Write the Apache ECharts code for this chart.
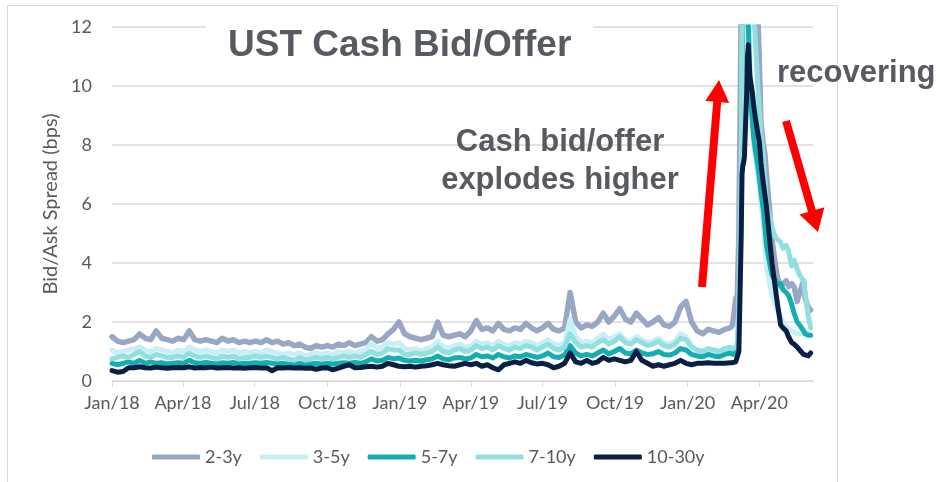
<!DOCTYPE html>
<html lang="en">
<head>
<meta charset="UTF-8">
<title>UST Cash Bid/Offer</title>
<script src="https://cdn.jsdelivr.net/npm/echarts@6/dist/echarts.min.js"></script>
<style>
  html, body { margin: 0; padding: 0; background: #fff; }
  #chart { width: 936px; height: 482px; }
</style>
</head>
<body>
<div id="chart"></div>
<script>
// weekly readings (Mondays) from Jan 2018 to Feb 24 2020, then denser through the March 2020 blow-out
var weekCount = 113;
var spikeDates = [
  '2020-02-27', '2020-03-02', '2020-03-04', '2020-03-06',
  '2020-03-09', '2020-03-10', '2020-03-11', '2020-03-12', '2020-03-13',
  '2020-03-16', '2020-03-17', '2020-03-18', '2020-03-19', '2020-03-20',
  '2020-03-23', '2020-03-25', '2020-03-27', '2020-03-30',
  '2020-04-01', '2020-04-03', '2020-04-06', '2020-04-08', '2020-04-10',
  '2020-04-14', '2020-04-17', '2020-04-21', '2020-04-24', '2020-04-28',
  '2020-05-01', '2020-05-05', '2020-05-08', '2020-05-12', '2020-05-15',
  '2020-05-19', '2020-05-22', '2020-05-27', '2020-05-29', '2020-06-02', '2020-06-05'
];

var tickDates = ['2018-01-01', '2018-04-01', '2018-07-01', '2018-10-01', '2019-01-01', '2019-04-01',
                 '2019-07-01', '2019-10-01', '2020-01-01', '2020-04-01'];
var tickLabels = ['Jan/18', 'Apr/18', 'Jul/18', 'Oct/18', 'Jan/19', 'Apr/19',
                  'Jul/19', 'Oct/19', 'Jan/20', 'Apr/20'];

var seriesNames = ['2-3y', '3-5y', '5-7y', '7-10y', '10-30y'];

var y2to3 = [
  1.5, 1.35, 1.3, 1.35, 1.4, 1.6, 1.45, 1.4, 1.7, 1.45, 1.4, 1.35, 1.45,
  1.4, 1.7, 1.4, 1.35, 1.4, 1.35, 1.3, 1.45, 1.35, 1.4, 1.3, 1.35, 1.3,
  1.35, 1.3, 1.4, 1.3, 1.35, 1.25, 1.3, 1.2, 1.25, 1.15, 1.1, 1.2, 1.15,
  1.2, 1.15, 1.25, 1.2, 1.3, 1.2, 1.25, 1.3, 1.5, 1.35, 1.4, 1.6, 1.75,
  2.0, 1.6, 1.5, 1.45, 1.4, 1.45, 1.5, 2.0, 1.55, 1.5, 1.55, 1.6, 1.5,
  1.7, 2.05, 1.75, 1.8, 1.7, 1.95, 1.75, 1.7, 1.8, 1.75, 1.95, 1.8, 1.7,
  1.8, 1.95, 1.75, 1.7, 1.8, 3.0, 2.0, 1.8, 1.9, 1.85, 2.0, 2.3, 2.0,
  2.2, 2.45, 2.1, 2.0, 2.3, 2.1, 1.9, 2.0, 2.15, 1.9, 1.85, 2.0, 2.5,
  2.7, 2.0, 1.7, 1.6, 1.75, 1.7, 1.65, 1.75, 1.8,
  1.9, 2.8, 2.9, 5.0,
  13, 15, 16, 16, 16,
  16, 16, 16, 15.5, 15,
  15, 14.5, 13.5, 12.5,
  10.8, 8.8, 8.0, 7.7, 7.0,
  5.8, 4.8, 4.0, 3.5, 3.2,
  3.3, 3.4, 3.2, 3.3, 3.2,
  2.7, 3.0, 3.4, 2.8, 2.5, 2.4
];

var y3to5 = [
  1.05, 0.95, 1.0, 1.05, 1.1, 1.15, 1.05, 1.0, 1.1, 1.05, 1.0, 0.95, 1.05,
  1.0, 1.15, 1.05, 1.0, 1.05, 1.0, 0.95, 1.05, 1.0, 1.05, 0.95, 1.0, 0.95,
  1.0, 0.95, 1.05, 1.0, 0.95, 0.9, 0.95, 0.9, 0.95, 0.85, 0.9, 0.95, 0.9,
  0.95, 0.9, 1.0, 0.95, 1.0, 0.95, 1.0, 1.05, 1.3, 1.1, 1.15, 1.3, 1.25,
  1.3, 1.1, 1.05, 1.1, 1.0, 1.1, 1.15, 1.35, 1.15, 1.1, 1.2, 1.25, 1.15,
  1.2, 1.35, 1.25, 1.3, 1.2, 1.35, 1.25, 1.2, 1.3, 1.25, 1.35, 1.3, 1.2,
  1.3, 1.4, 1.25, 1.2, 1.3, 2.1, 1.5, 1.3, 1.35, 1.3, 1.45, 1.6, 1.4,
  1.5, 1.6, 1.4, 1.35, 1.5, 1.4, 1.3, 1.35, 1.45, 1.3, 1.25, 1.35, 1.6,
  1.5, 1.2, 1.0, 0.95, 1.0, 0.95, 0.9, 1.0, 1.05,
  1.0, 1.05, 1.2, 2.5,
  7, 11, 13, 14, 14,
  14, 13.5, 13, 12.5, 11,
  9, 8, 7.5, 7,
  6.6, 6.0, 5.4, 4.6, 3.9,
  3.3, 2.9, 2.6, 2.4, 2.2,
  2.0, 1.85, 1.75, 1.7, 1.65,
  1.6, 1.6, 1.7, 1.7, 1.6, 1.55
];

var y5to7 = [
  0.6, 0.55, 0.6, 0.65, 0.6, 0.7, 0.6, 0.65, 0.6, 0.62, 0.58, 0.6, 0.62,
  0.6, 0.7, 0.62, 0.6, 0.63, 0.6, 0.58, 0.62, 0.6, 0.63, 0.58, 0.6, 0.6,
  0.62, 0.6, 0.63, 0.6, 0.58, 0.6, 0.57, 0.55, 0.6, 0.55, 0.58, 0.6, 0.57,
  0.6, 0.58, 0.6, 0.62, 0.6, 0.63, 0.6, 0.65, 0.75, 0.68, 0.7, 0.8, 0.75,
  0.78, 0.7, 0.68, 0.7, 0.68, 0.72, 0.75, 0.85, 0.75, 0.72, 0.78, 0.8, 0.75,
  0.78, 0.9, 0.82, 0.85, 0.78, 0.9, 0.82, 0.78, 0.85, 0.82, 0.9, 0.85, 0.8,
  0.85, 0.95, 0.82, 0.8, 0.88, 1.2, 0.95, 0.85, 0.9, 0.85, 0.95, 1.05, 0.92,
  1.0, 1.1, 0.95, 0.92, 1.05, 0.95, 0.9, 0.92, 1.0, 0.9, 0.88, 0.95, 1.1,
  1.05, 0.9, 0.85, 0.82, 0.9, 0.85, 0.82, 0.9, 0.95,
  0.9, 0.95, 1.1, 2.0,
  6.5, 10, 12.5, 13, 13,
  13, 12.5, 12, 11, 10,
  8.8, 8.2, 7.8, 7.3,
  6.9, 6.4, 5.8, 5.2, 4.6,
  4.0, 3.6, 3.4, 3.3, 3.3,
  3.1, 3.0, 2.9, 2.6, 2.3,
  2.0, 1.9, 1.7, 1.6, 1.55, 1.55
];

var y7to10 = [
  0.75, 0.8, 0.85, 0.8, 0.9, 1.0, 0.85, 0.8, 0.9, 0.85, 0.8, 0.8, 0.85,
  0.8, 0.95, 0.85, 0.8, 0.85, 0.8, 0.75, 0.85, 0.8, 0.85, 0.75, 0.8, 0.8,
  0.85, 0.8, 0.85, 0.8, 0.75, 0.8, 0.75, 0.7, 0.8, 0.7, 0.75, 0.8, 0.75,
  0.8, 0.75, 0.8, 0.85, 0.8, 0.85, 0.8, 0.9, 1.0, 0.9, 0.95, 1.1, 1.05,
  1.05, 0.9, 0.9, 0.95, 0.9, 0.95, 1.0, 1.15, 1.0, 0.95, 1.05, 1.1, 1.0,
  1.05, 1.2, 1.1, 1.15, 1.05, 1.2, 1.1, 1.05, 1.15, 1.1, 1.2, 1.15, 1.05,
  1.15, 1.25, 1.1, 1.05, 1.15, 1.6, 1.3, 1.15, 1.2, 1.15, 1.3, 1.4, 1.25,
  1.35, 1.5, 1.3, 1.25, 1.4, 1.3, 1.2, 1.25, 1.35, 1.2, 1.15, 1.25, 1.45,
  1.4, 1.15, 1.05, 1.0, 1.1, 1.05, 1.0, 1.1, 1.15,
  1.1, 1.15, 1.3, 2.5,
  7.5, 11.5, 13.5, 14, 14,
  14.5, 14, 13.5, 13.5, 13,
  13, 12.5, 11.5, 10,
  9.2, 8.4, 7.6, 6.8, 6.0,
  5.6, 5.2, 4.9, 4.8, 4.7,
  4.5, 4.6, 4.4, 3.9, 4.1,
  3.8, 3.6, 3.4, 3.0, 2.2, 1.8
];

var y10to30 = [
  0.35, 0.3, 0.32, 0.45, 0.45, 0.48, 0.45, 0.44, 0.47, 0.45, 0.43, 0.45, 0.46,
  0.45, 0.48, 0.44, 0.46, 0.45, 0.47, 0.44, 0.45, 0.46, 0.44, 0.45, 0.43, 0.45,
  0.46, 0.44, 0.45, 0.35, 0.45, 0.44, 0.46, 0.44, 0.45, 0.43, 0.44, 0.4, 0.44,
  0.45, 0.38, 0.44, 0.5, 0.55, 0.45, 0.46, 0.48, 0.5, 0.47, 0.5, 0.6, 0.55,
  0.5, 0.48, 0.5, 0.47, 0.5, 0.52, 0.55, 0.6, 0.55, 0.52, 0.5, 0.55, 0.6,
  0.55, 0.6, 0.5, 0.55, 0.45, 0.38, 0.55, 0.6, 0.65, 0.6, 0.7, 0.62, 0.58,
  0.6, 0.55, 0.45, 0.5, 0.6, 0.95, 0.65, 0.6, 0.7, 0.6, 0.65, 0.8, 0.7,
  0.75, 0.7, 0.65, 0.7, 1.0, 0.7, 0.6, 0.5, 0.55, 0.5, 0.55, 0.6, 0.7,
  0.6, 0.55, 0.6, 0.6, 0.62, 0.6, 0.6, 0.6, 0.62,
  0.62, 0.65, 0.7, 1.0,
  5.0, 7.0, 7.3, 7.4, 7.6,
  9.8, 11.0, 11.4, 10.8, 10.3,
  9.8, 9.3, 8.9, 8.4,
  8.1, 7.4, 6.7, 6.3, 5.9,
  4.8, 4.0, 3.2, 2.6, 1.9,
  1.8, 1.7, 1.5, 1.3, 1.25,
  1.15, 1.05, 0.9, 0.95, 0.85, 0.95
];

var seriesColors = ['#99a7c5', '#c8eff6', '#14aeb1', '#93dfe0', '#0b1e43'];
var seriesValues = [y2to3, y3to5, y5to7, y7to10, y10to30];

function day(s) {
  var p = s.split('-');
  return new Date(+p[0], +p[1] - 1, +p[2]).getTime();
}

var times = [];
for (var i = 0; i < weekCount; i++) {
  times.push(new Date(2018, 0, 1 + 7 * i).getTime());
}
spikeDates.forEach(function (d) { times.push(day(d)); });

var tickTimes = tickDates.map(day);

function tickLabel(v) {
  var best = 0;
  for (var k = 1; k < tickTimes.length; k++) {
    if (Math.abs(tickTimes[k] - v) < Math.abs(tickTimes[best] - v)) best = k;
  }
  return tickLabels[best];
}

function arrowPoints(from, to, shaft, headLen, headW) {
  var dx = to[0] - from[0], dy = to[1] - from[1];
  var len = Math.sqrt(dx * dx + dy * dy);
  var ux = dx / len, uy = dy / len, px = -uy, py = ux;
  var bx = to[0] - ux * headLen, by = to[1] - uy * headLen;
  var s = shaft / 2, h = headW / 2;
  return [
    [from[0] + px * s, from[1] + py * s],
    [bx + px * s, by + py * s],
    [bx + px * h, by + py * h],
    to,
    [bx - px * h, by - py * h],
    [bx - px * s, by - py * s],
    [from[0] - px * s, from[1] - py * s]
  ];
}

var axisText = { color: '#595959', fontSize: 18, fontFamily: 'Lato' };
var noteFont = 'bold 31px "Liberation Sans", Arial, sans-serif';

var chart = echarts.init(document.getElementById('chart'));
chart.setOption({
  animation: false,
  grid: { left: 112, right: 123, top: 27, bottom: 101 },
  legend: {
    data: seriesNames,
    left: 147,
    top: 443,
    icon: 'roundRect',
    itemWidth: 48,
    itemHeight: 5,
    itemGap: 18,
    textStyle: axisText
  },
  xAxis: {
    // dates as millisecond numbers, so the quarter ticks can be placed exactly
    type: 'value',
    min: day('2018-01-01'),
    max: day('2020-06-08'),
    axisLine: { lineStyle: { color: '#d9d9d9', width: 1 } },
    axisTick: { show: true, customValues: tickTimes, length: 6, lineStyle: { color: '#d9d9d9' } },
    axisLabel: {
      customValues: tickTimes,
      formatter: function (v) { return tickLabel(v); },
      margin: 13,
      color: axisText.color, fontSize: axisText.fontSize, fontFamily: axisText.fontFamily
    },
    splitLine: { show: false }
  },
  yAxis: {
    type: 'value',
    min: 0,
    max: 12,
    interval: 2,
    name: 'Bid/Ask Spread (bps)',
    nameLocation: 'middle',
    nameGap: 50,
    nameTextStyle: { color: '#595959', fontSize: 20, fontFamily: 'Lato' },
    axisLine: { show: false },
    axisTick: { show: false },
    axisLabel: { margin: 20, color: axisText.color, fontSize: axisText.fontSize, fontFamily: axisText.fontFamily },
    splitLine: { lineStyle: { color: '#d9d9d9', width: 1.5 } }
  },
  series: seriesNames.map(function (name, si) {
    return {
      name: name,
      type: 'line',
      showSymbol: false,
      symbol: 'none',
      clip: true,
      color: seriesColors[si],
      lineStyle: { width: si === 0 ? 5.5 : 5, color: seriesColors[si], cap: 'round', join: 'round' },
      emphasis: { disabled: true },
      data: times.map(function (t, i) { return [t, seriesValues[si][i]]; })
    };
  }),
  graphic: [
    { type: 'rect', silent: true, z: 0,
      shape: { x: 7.5, y: 5.5, width: 830, height: 490 },
      style: { fill: 'none', stroke: '#d9d9d9', lineWidth: 1 } },
    { type: 'rect', silent: true, z: 50,
      shape: { x: 206, y: 22, width: 387, height: 12 },
      style: { fill: '#ffffff' } },
    { type: 'text', silent: true, z: 60, x: 228, y: 46,
      style: { text: 'UST Cash Bid/Offer', font: 'bold 37px "Liberation Sans", Arial, sans-serif',
               fill: '#575b61', align: 'left', verticalAlign: 'middle' } },
    { type: 'text', silent: true, z: 60, x: 560, y: 142,
      style: { text: 'Cash bid/offer', font: noteFont, fill: '#575b61', align: 'center', verticalAlign: 'middle' } },
    { type: 'text', silent: true, z: 60, x: 560, y: 180,
      style: { text: 'explodes higher', font: noteFont, fill: '#575b61', align: 'center', verticalAlign: 'middle' } },
    { type: 'text', silent: true, z: 60, x: 777, y: 73,
      style: { text: 'recovering', font: noteFont, fill: '#575b61', align: 'left', verticalAlign: 'middle' } },
    { type: 'polygon', silent: true, z: 60,
      shape: { points: arrowPoints([702, 287], [719, 80], 8, 22, 24) },
      style: { fill: '#ff0000' } },
    { type: 'polygon', silent: true, z: 60,
      shape: { points: arrowPoints([786, 121], [818, 232], 8, 22, 26) },
      style: { fill: '#ff0000' } }
  ]
});
</script>
</body>
</html>
